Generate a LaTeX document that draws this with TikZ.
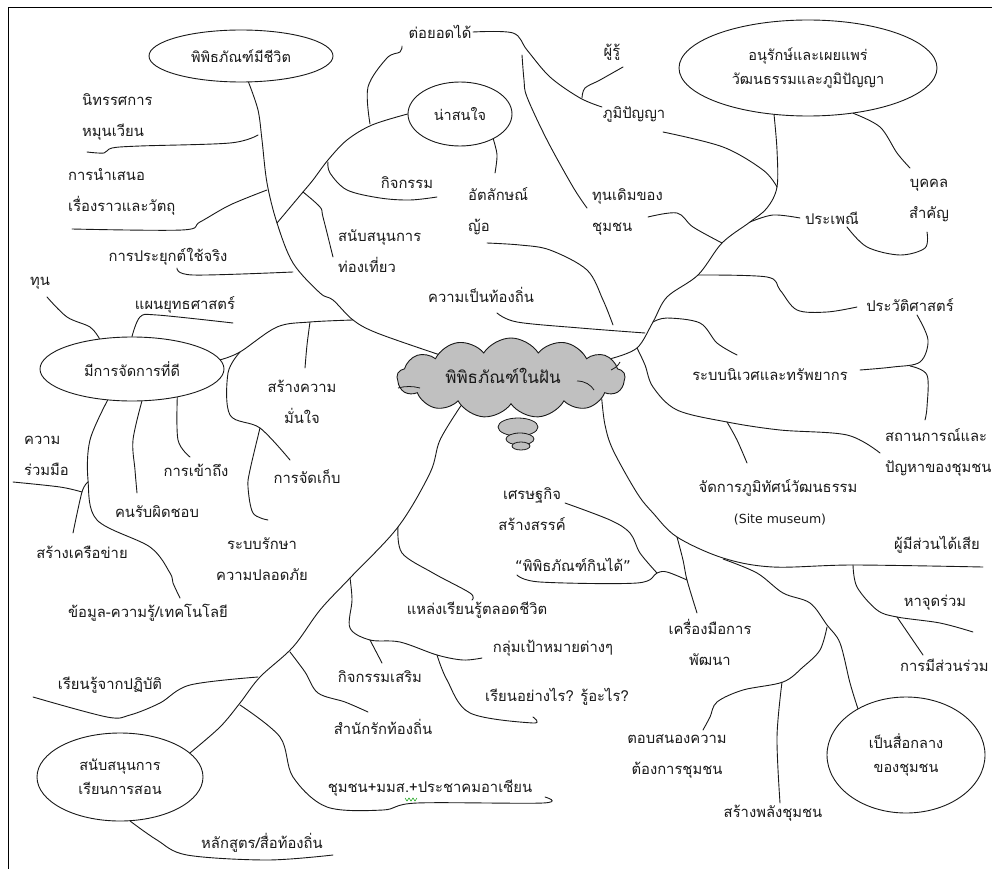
\documentclass[tikz,border=0pt]{standalone}
\usepackage{fontspec}
\usetikzlibrary{shapes.geometric,shapes.symbols}
\newfontfamily\thai[Script=Thai]{Loma}
\newfontfamily\dejavu{DejaVu Sans}
\definecolor{cloudgray}{RGB}{192,192,192}
\definecolor{ink}{RGB}{25,25,25}
\begin{document}
\begin{tikzpicture}[x=1pt,y=-1pt,
  lbl/.style={font=\thai\fontsize{14.8}{31}\selectfont, inner sep=0pt, align=center, text=ink},
  lbll/.style={lbl, align=left, anchor=west},
  br/.style={draw=ink, line width=0.9pt, line cap=round, line join=round},
  bub/.style={ellipse, draw=ink, line width=0.9pt, inner sep=0pt, align=center,
              font=\thai\fontsize{14.5}{24}\selectfont, text=ink},
  bubble/.style={ellipse, draw=ink, line width=0.8pt, fill=cloudgray, inner sep=0pt}]
\useasboundingbox (0,0) rectangle (992,869);
\clip (0,0) rectangle (992,869);
\fill[white] (0,0) rectangle (992,869);
\draw[line width=1pt] (992,8) -- (8,8) -- (8,869);

% ---------- ellipses ----------
\node[bub, minimum width=184pt, minimum height=52pt] (e1) at (241,56) {พิพิธภัณฑ์มีชีวิต};
\node[bub, minimum width=104pt, minimum height=64pt] (e2) at (460,114) {น่าสนใจ};
\node[bub, minimum width=258pt, minimum height=96pt] (e3) at (808,68) {อนุรักษ์และเผยแพร่\\วัฒนธรรมและภูมิปัญญา};
\node[bub, minimum width=184pt, minimum height=64pt] (e4) at (132,369) {มีการจัดการที่ดี};
\node[bub, minimum width=166pt, minimum height=88pt] (e5) at (120,777) {สนับสนุนการ\\เรียนการสอน};
\node[bub, minimum width=158pt, minimum height=116pt] (e6) at (906,755) {เป็นสื่อกลาง\\ของชุมชน};

% ---------- cloud ----------
\node[cloud, cloud puffs=13, cloud puff arc=115, aspect=2.7, draw=ink, fill=cloudgray,
      line width=0.9pt, minimum width=228pt, minimum height=80pt, inner sep=0pt] (c) at (511,378) {};
\node[font=\thai\fontsize{17}{20}\selectfont, text=ink, inner sep=0pt] (ct) at (503,376) {พิพิธภัณฑ์ในฝัน};
\draw[ink, line width=0.8pt] (398,388) .. controls (405,386) and (413,386) .. (420,388);
\draw[ink, line width=0.8pt] (577,381) .. controls (585,381) and (591,385) .. (594,390);
\draw[ink, line width=0.8pt] (611,370) .. controls (615,368) and (618,366) .. (620,362);
\node[bubble, minimum width=40pt, minimum height=18pt] (b1) at (518,427) {};
\node[bubble, minimum width=28pt, minimum height=12pt] (b2) at (520,439) {};
\node[bubble, minimum width=18pt, minimum height=8pt] (b3) at (521,446) {};

% ---------- labels ----------
\node[lbll] (n1) at (82,117) {นิทรรศการ\\หมุนเวียน};
\node[lbll] (n2) at (68,192) {การนำเสนอ\\เรื่องราวและวัตถุ};
\node[lbl] (n3) at (168,257) {การประยุกต์ใช้จริง};
\node[lbl] (n4) at (40,283) {ทุน};
\node[lbl] (n5) at (185,305) {แผนยุทธศาสตร์};
\node[lbl] (n6) at (302,402) {สร้างความ\\มั่นใจ};
\node[lbl] (n7) at (307,477) {การจัดเก็บ};
\node[lbl] (n8) at (262,559) {ระบบรักษา\\ความปลอดภัย};
\node[lbl] (n9) at (196,470) {การเข้าถึง};
\node[lbl] (n10) at (157,512) {คนรับผิดชอบ};
\node[lbll] (n11) at (24,456) {ความ\\ร่วมมือ};
\node[lbl] (n12) at (82,552) {สร้างเครือข่าย};
\node[lbl] (n13) at (148,613) {ข้อมูล-ความรู้/เทคโนโลยี};
\node[lbl] (n14) at (110,685) {เรียนรู้จากปฏิบัติ};
\node[lbl] (n15) at (262,843) {หลักสูตร/สื่อท้องถิ่น};
\node[lbl] (n16) at (380,677) {กิจกรรมเสริม};
\node[lbl] (n17) at (383,727) {สำนักรักท้องถิ่น};
\node[lbl] (n18) at (430,788) {ชุมชน+มมส.+ประชาคมอาเซียน};
\node[lbl] (n19) at (477,610) {แหล่งเรียนรู้ตลอดชีวิต};
\node[lbl] (n20) at (553,648) {กลุ่มเป้าหมายต่างๆ};
\node[lbl] (n21) at (557,697) {เรียนอย่างไร? รู้อะไร?};
\node[lbl] (n22) at (532,509) {เศรษฐกิจ\\สร้างสรรค์};
\node[lbl] (n23) at (573,565) {{\dejavu “}พิพิธภัณฑ์กินได้{\dejavu ”}};
\node[lbl] (n24) at (710,642) {เครื่องมือการ\\พัฒนา};
\node[lbl] (n25) at (677,757) {ตอบสนองความ\\ต้องการชุมชน};
\node[lbl] (n26) at (773,813) {สร้างพลังชุมชน};
\node[lbl] (n28) at (935,603) {หาจุดร่วม};
\node[lbll] (n29) at (900,665) {การมีส่วนร่วม};
\node[lbl] (n30) at (937,545) {ผู้มีส่วนได้เสีย};
\node[lbl] (n31) at (778,488) {จัดการภูมิทัศน์วัฒนธรรม};
\node[lbl, font=\dejavu\fontsize{12.5}{14}\selectfont] (n31b) at (780,520) {(Site museum)};
\node[lbll] (n32) at (885,452) {สถานการณ์และ\\ปัญหาของชุมชน};
\node[lbl] (n33) at (770,375) {ระบบนิเวศและทรัพยากร};
\node[lbl] (n34) at (910,305) {ประวัติศาสตร์};
\node[lbl] (n35) at (832,218) {ประเพณี};
\node[lbl] (n36) at (929,201) {บุคคล\\สำคัญ};
\node[lbll] (n37) at (592,212) {ทุนเดิมของ\\ชุมชน};
\node[lbl] (n38) at (634,114) {ภูมิปัญญา};
\node[lbl] (n39) at (612,52) {ผู้รู้};
\node[lbl] (n40) at (440,32) {ต่อยอดได้};
\node[lbl] (n41) at (407,183) {กิจกรรม};
\node[lbll] (n42) at (468,211) {อัตลักษณ์\\ญ้อ};
\node[lbll] (n43) at (338,251) {สนับสนุนการ\\ท่องเที่ยว};
\node[lbl] (n44) at (481,295) {ความเป็นท้องถิ่น};

% spell-check squiggle
\draw[green!60!black, line width=0.5pt] (405,798) -- (407,801) -- (409,798) -- (411,801) -- (413,798) -- (415,801) -- (417,798);

% ---------- branches ----------
\begin{scope}[smooth, tension=0.55]
% left-upper trunk
\draw[br] plot coordinates {(e1.-74) (258,110) (262,140) (267,183) (277,223) (293,263) (320,293) (333,300) (353,320) (377,333) (c.162)};
\draw[br] plot coordinates {(87,152) (104,153) (112,148) (140,146) (230,143) (258,135)};
\draw[br] plot coordinates {(72,229) (182,230) (200,222) (230,205) (267,190)};
\draw[br] plot coordinates {(177,268) (193,275) (293,272)};
\draw[br] plot coordinates {(277,223) (303,192) (313,180) (328,160) (347,140) (372,125) (e2.180)};
\draw[br] plot coordinates {(370,124) (368,87) (387,58) (400,52) (402,46)};
\draw[br] plot coordinates {(328,162) (330,173) (347,190) (380,198) (410,200) (437,197)};
\draw[br] plot coordinates {(303,192) (320,207) (323,217) (333,257)};
\draw[br] plot coordinates {(e2.-37) (497,155) (495,173)};
\draw[br] plot coordinates {(487,243) (520,245) (550,250) (587,270) (603,300) (613,325)};
\draw[br] plot coordinates {(497,313) (517,322) (580,328) (645,333)};
\draw[br] plot coordinates {(473,32) (513,33) (527,50) (550,77) (580,98) (602,107)};
\draw[br] plot coordinates {(623,67) (600,80) (585,88) (582,98)};
\draw[br] plot coordinates {(522,55) (524,80) (527,97) (547,140) (573,187) (587,208)};
% right-upper trunk
\draw[br] plot coordinates {(e3.-126) (777,150) (777,187) (767,208) (750,222) (722,243) (698,275) (667,297) (653,322) (637,348) (c.11)};
\draw[br] plot coordinates {(663,132) (723,147) (763,170) (777,187)};
\draw[br] plot coordinates {(750,222) (773,215) (800,218)};
\draw[br] plot coordinates {(847,227) (867,247) (900,255) (925,248) (927,232)};
\draw[br] plot coordinates {(e3.-45) (880,127) (897,153) (910,168)};
\draw[br] plot coordinates {(648,217) (677,213) (693,227) (722,243)};
\draw[br] plot coordinates {(698,275) (767,277) (780,290) (797,310) (827,312) (857,307)};
\draw[br] plot coordinates {(917,315) (928,340) (920,362) (893,367) (860,370)};
\draw[br] plot coordinates {(910,366) (927,375) (927,407) (925,420)};
\draw[br] plot coordinates {(653,322) (667,318) (700,323) (717,343) (737,355)};
\draw[br] plot coordinates {(637,348) (645,365) (653,387) (677,410) (727,422) (780,430) (847,435) (880,453)};
\draw[br] plot coordinates {(727,422) (737,440) (747,463)};
% right-lower trunk
\draw[br] plot coordinates {(c.-13) (605,425) (613,450) (637,493) (653,513) (677,537) (723,558) (773,567) (853,565) (983,567)};
\draw[br] plot coordinates {(723,559) (757,573) (783,593) (810,603) (827,625) (840,643) (850,683) (e6.136)};
\draw[br] plot coordinates {(677,537) (683,560) (687,580) (697,613)};
\draw[br] plot coordinates {(517,575) (540,582) (637,583) (657,573) (667,572) (687,580)};
\draw[br] plot coordinates {(565,503) (610,520) (630,533) (640,553) (657,573)};
\draw[br] plot coordinates {(827,627) (820,650) (803,667) (783,682) (743,690) (717,702) (710,717) (703,730)};
\draw[br] plot coordinates {(782,682) (777,737) (780,803)};
\draw[br] plot coordinates {(853,565) (857,587) (877,610) (897,617) (940,623) (973,632)};
\draw[br] plot coordinates {(897,617) (923,655)};
% left-lower trunk
\draw[br] plot coordinates {(c.-151) (440,440) (430,473) (398,527) (350,578) (320,610) (293,647) (260,677) (240,703) (220,727) (e5.19)};
\draw[br] plot coordinates {(398,527) (402,553) (433,573) (470,593) (472,600)};
\draw[br] plot coordinates {(350,578) (352,600) (350,628) (370,640) (400,642) (437,655) (463,660) (482,658)};
\draw[br] plot coordinates {(370,640) (382,663)};
\draw[br] plot coordinates {(437,655) (447,680) (470,713) (533,723) (533,717)};
\draw[br] plot coordinates {(290,652) (305,672) (318,693) (345,702) (368,712)};
\draw[br] plot coordinates {(240,705) (280,737) (293,777) (327,807) (383,810) (417,803) (543,803) (545,797)};
\draw[br] plot coordinates {(258,677) (190,685) (160,703) (130,715) (107,717) (33,697)};
\draw[br] plot coordinates {(e5.-77) (157,840) (187,855) (267,860) (333,855)};
% management ellipse
\draw[br] plot coordinates {(e4.6) (240,352) (277,327) (310,322) (353,320)};
\draw[br] plot coordinates {(310,322) (307,345) (305,368)};
\draw[br] plot coordinates {(240,352) (228,373) (230,415) (260,428) (290,460)};
\draw[br] plot coordinates {(260,428) (250,470) (248,487) (253,513) (268,520)};
\draw[br] plot coordinates {(47,297) (67,317) (90,327) (e4.137)};
\draw[br] plot coordinates {(e4.90) (140,317) (157,315) (233,323)};
\draw[br] plot coordinates {(e4.-32) (178,440) (190,457)};
\draw[br] plot coordinates {(e4.-73) (133,440) (135,470) (137,493)};
\draw[br] plot coordinates {(e4.-128) (90,440) (88,480) (97,520) (150,547) (170,573) (173,583) (180,598)};
\draw[br] plot coordinates {(88,482) (82,492) (73,533)};
\draw[br] plot coordinates {(13,482) (60,487) (82,492)};
\end{scope}
\end{tikzpicture}
\end{document}
